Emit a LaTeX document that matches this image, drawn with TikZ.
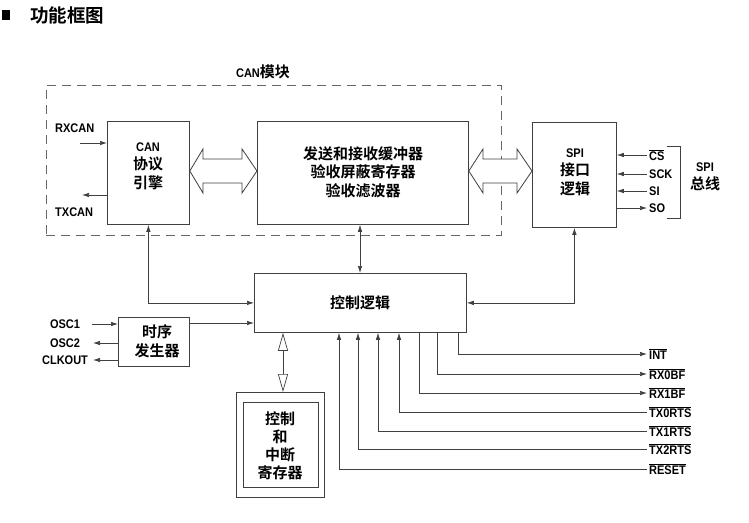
\documentclass[tikz,border=0pt]{standalone}
\usepackage{fontspec}
\setmainfont{Liberation Sans}[FakeStretch=0.88]
\newfontfamily\cjk{Noto Sans CJK SC}[BoldFont={Noto Sans CJK SC Bold}]
\usetikzlibrary{arrows.meta,calc}
\newcommand\ovl[1]{\setbox0\hbox{#1}\rlap{\rule[\dimexpr\ht0+1.2pt\relax]{\wd0}{0.7pt}}\box0}
\begin{document}
\begin{tikzpicture}[x=1pt,y=-1pt,
  box/.style={draw=black!75,line width=0.8pt,inner sep=0pt,anchor=north west},
  lab/.style={font=\fontsize{12.5}{14}\selectfont\bfseries,inner sep=2pt},
  zh/.style={font=\fontsize{15}{18.5}\selectfont\bfseries\cjk,align=center,inner sep=0pt},
  lat/.style={},
  ln/.style={draw=black!75,line width=0.7pt},
  arr/.style={ln,-{Latex[length=7pt,width=4.5pt]}},
  darr/.style={ln,{Latex[length=7pt,width=4.5pt]}-{Latex[length=7pt,width=4.5pt]}},
  blk/.style={draw=black!75,line width=0.8pt,fill=white}]
\useasboundingbox (0,0) rectangle (749,522);
% title
\fill (2,10) rectangle (10,20);
\node[font=\fontsize{18.5}{20}\selectfont\bfseries\cjk,anchor=west,inner sep=0pt] (title) at (30,15) {功能框图};
% CAN module
\node[box,draw=black!60,dash pattern=on 9pt off 6pt,minimum width=455pt,minimum height=150pt] (canmod) at (46,85) {};
\node[zh] (canmodt) at (263,72) {{\rmfamily\fontsize{12.5}{14}\selectfont\bfseries CAN}模块};
\node[box,minimum width=82pt,minimum height=103pt] (can) at (107,121) {};
\node[zh] (cant) at (148,166) {{\rmfamily\fontsize{12.5}{18.5}\selectfont\bfseries CAN}\\协议\\引擎};
\node[box,minimum width=211pt,minimum height=103pt] (buf) at (257,121) {};
\node[zh] (buft) at (363,172) {发送和接收缓冲器\\验收屏蔽寄存器\\验收滤波器};
\node[box,minimum width=84pt,minimum height=105pt] (spi) at (532,122) {};
\node[zh] (spit) at (575,172) {{\rmfamily\fontsize{12.5}{18.5}\selectfont\bfseries SPI}\\接口\\逻辑};
% block arrows
\draw[blk] (can.east |- 0,171) -- (203,149) -- (203,159) -- (242,159) -- (242,149) -- (buf.west |- 0,171) -- (242,193) -- (242,183) -- (203,183) -- (203,193) -- cycle;
\draw[blk] (buf.east |- 0,171) -- (483,149) -- (483,159) -- (517,159) -- (517,149) -- (spi.west |- 0,171) -- (517,193) -- (517,183) -- (483,183) -- (483,193) -- cycle;
% CAN pins
\node[lab,anchor=west] (rxcan) at (53,128) {RXCAN};
\node[lab,anchor=west] (txcan) at (53,212) {TXCAN};
\coordinate (rxs) at (80,143);
\coordinate (txe) at (82,195);
\draw[arr] (rxs) -- (rxs -| can.west);
\draw[arr] (txe -| can.west) -- (txe);
% SPI pins
\node[lab,anchor=west] (cs) at (647,155) {\ovl{CS}};
\node[lab,anchor=west] (sck) at (647,174) {SCK};
\node[lab,anchor=west] (si) at (647,191) {SI};
\node[lab,anchor=west] (so) at (647,208) {SO};
\draw[arr] (cs.west) -- (spi.east |- cs.west);
\draw[arr] (sck.west) -- (spi.east |- sck.west);
\draw[arr] (si.west) -- (spi.east |- si.west);
\draw[arr] (spi.east |- so.west) -- (so.west);
\coordinate (br1) at (667,146);
\coordinate (br2) at (667,218);
\draw[ln] (br1) -- ++(13,0) |- (br2);
\node[zh] (spibus) at (705,177) {{\rmfamily\fontsize{12.5}{18.5}\selectfont\bfseries SPI}\\总线};
% control logic
\node[box,minimum width=212pt,minimum height=59pt] (ctrl) at (254,273) {};
\node[zh] (ctrlt) at (360,303) {控制逻辑};
\draw[darr] (buf.south -| 360,0) -- (ctrl.north -| 360,0);
\draw[darr] (can.south) |- (ctrl.west);
\draw[darr] (spi.south) |- (ctrl.east);
% timing generator
\node[box,minimum width=71pt,minimum height=49pt] (tim) at (118,317) {};
\node[zh] (timt) at (157,341) {时序\\发生器};
\draw[arr] (tim.east |- 0,323) -- (ctrl.west |- 0,323);
\node[lab] (osc1) at (65,324) {OSC1};
\node[lab] (osc2) at (65,343) {OSC2};
\node[lab] (clkout) at (65,360) {CLKOUT};
\coordinate (o1) at (92,324);
\coordinate (o2) at (93,343);
\coordinate (o3) at (93,360);
\draw[arr] (o1) -- (o1 -| tim.west);
\draw[arr] (o2 -| tim.west) -- (o2);
\draw[arr] (o3 -| tim.west) -- (o3);
% register block
\node[box,minimum width=88pt,minimum height=105pt] (reg) at (236,392) {};
\node[box,minimum width=75pt,minimum height=85pt] (regin) at (243,402) {};
\node[zh,font=\fontsize{15}{18}\selectfont\bfseries\cjk] (regt) at (280,446) {控制\\和\\中断\\寄存器};
\draw[ln,{Triangle[open,length=18pt,width=10pt]}-{Triangle[open,length=18pt,width=10pt]}] (ctrl.south -| 283,0) -- (reg.north -| 283,0);
% output / input pins
\node[lab,anchor=west] (int) at (647,354) {\ovl{INT}};
\node[lab,anchor=west] (rx0) at (647,374) {\ovl{RX0BF}};
\node[lab,anchor=west] (rx1) at (647,393) {\ovl{RX1BF}};
\node[lab,anchor=west] (tx0) at (647,412) {\ovl{TX0RTS}};
\node[lab,anchor=west] (tx1) at (647,431) {\ovl{TX1RTS}};
\node[lab,anchor=west] (tx2) at (647,449) {\ovl{TX2RTS}};
\node[lab,anchor=west] (rst) at (647,469) {\ovl{RESET}};
\draw[arr] (ctrl.south -| 458,0) |- (int.west);
\draw[arr] (ctrl.south -| 437,0) |- (rx0.west);
\draw[arr] (ctrl.south -| 419,0) |- (rx1.west);
\draw[arr] (tx0.west) -| (ctrl.south -| 399,0);
\draw[arr] (tx1.west) -| (ctrl.south -| 378,0);
\draw[arr] (tx2.west) -| (ctrl.south -| 358,0);
\draw[arr] (rst.west) -| (ctrl.south -| 339,0);
\end{tikzpicture}
\end{document}
